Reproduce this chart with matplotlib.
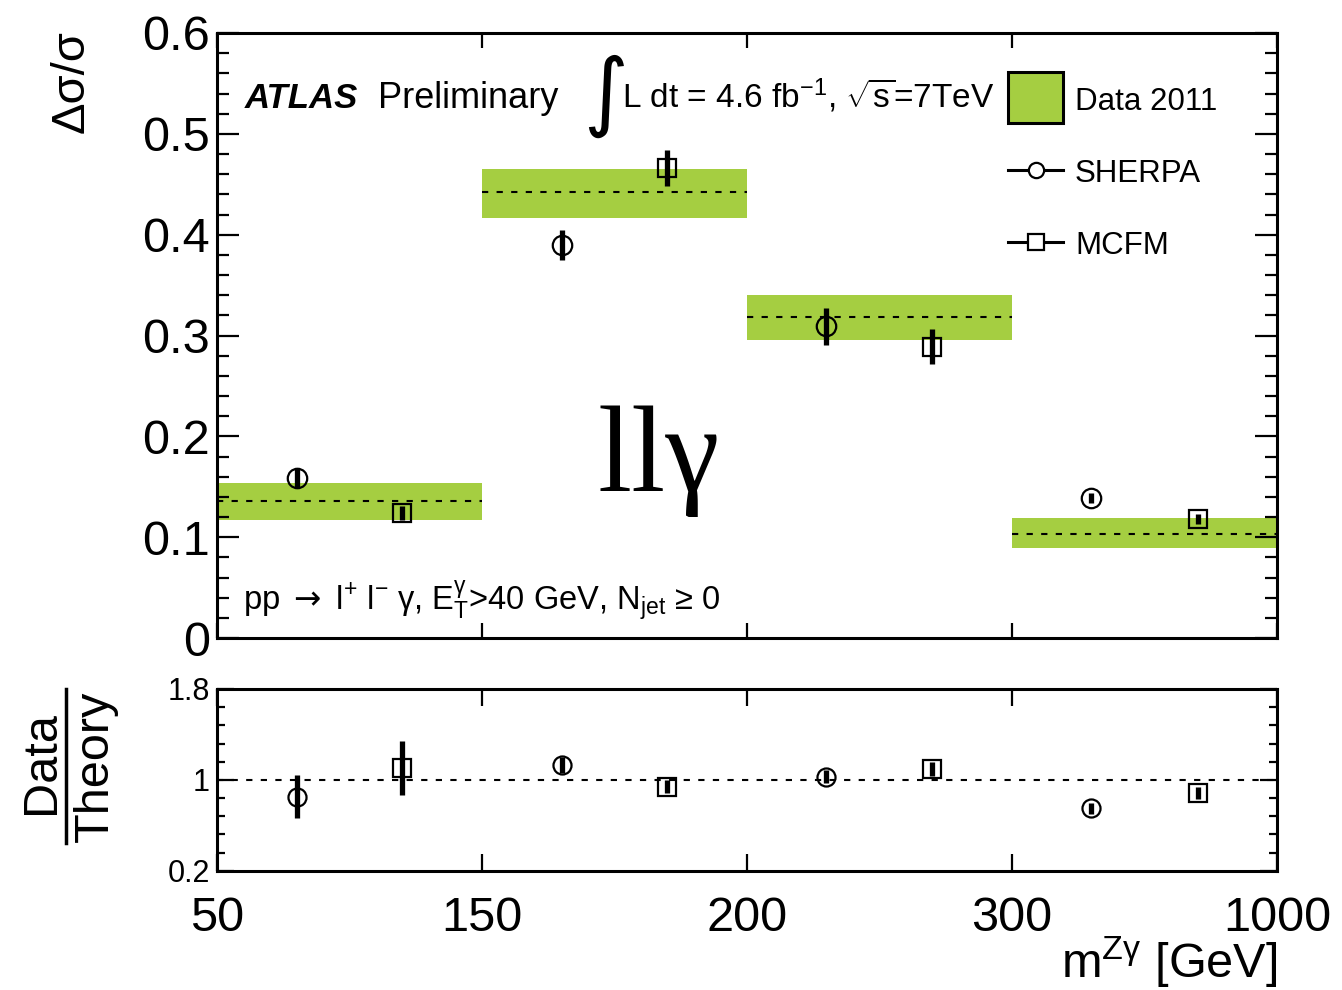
import numpy as np
import matplotlib
matplotlib.use("Agg")
import matplotlib.pyplot as plt
from matplotlib.ticker import FixedLocator, MultipleLocator
from matplotlib.lines import Line2D
from matplotlib.patches import Rectangle

plt.rcParams['font.family'] = ['Liberation Sans', 'DejaVu Sans']
plt.rcParams['mathtext.fontset'] = 'custom'
plt.rcParams['mathtext.rm'] = 'Liberation Sans'
plt.rcParams['mathtext.it'] = 'Liberation Sans'
plt.rcParams['mathtext.bf'] = 'Liberation Sans:bold'
plt.rcParams['mathtext.sf'] = 'DejaVu Sans'

# ---------------- data ----------------
bin_edge_labels = ['50', '150', '200', '300', '1000']
data_central = [0.136, 0.442, 0.318, 0.103]
data_low = [0.117, 0.417, 0.2955, 0.089]
data_high = [0.154, 0.465, 0.340, 0.1187]
sherpa = [0.159, 0.390, 0.309, 0.1386]
sherpa_err = [0.010, 0.015, 0.018, 0.005]
mcfm = [0.124, 0.466, 0.289, 0.1177]
mcfm_err = [0.007, 0.018, 0.017, 0.005]
ratio_sherpa = [0.852, 1.132, 1.029, 0.750]
ratio_sherpa_err = [0.19, 0.07, 0.06, 0.05]
ratio_mcfm = [1.103, 0.941, 1.094, 0.883]
ratio_mcfm_err = [0.24, 0.06, 0.06, 0.05]
top_yticks = [0.0, 0.1, 0.2, 0.3, 0.4, 0.5, 0.6]
top_yticklabels = ['0', '0.1', '0.2', '0.3', '0.4', '0.5', '0.6']
bot_yticks = [0.2, 1.0, 1.8]
bot_yticklabels = ['0.2', '1', '1.8']

GREEN = '#a5ce41'
W, H = 1342, 990
fig = plt.figure(figsize=(W / 100, H / 100), dpi=100)


def fx(px):
    return px / W


def fy(py):
    return 1 - py / H


ax1 = fig.add_axes([fx(217), fy(638), fx(1277) - fx(217), fy(33) - fy(638)])
ax2 = fig.add_axes([fx(217), fy(870.7), fx(1277) - fx(217), fy(689) - fy(870.7)])

nb = len(data_central)
edges = np.arange(nb + 1)
centers = np.arange(nb)
xs = centers + 0.3
xm = centers + 0.7

# top panel
low = np.array(data_low)
high = np.array(data_high)
ax1.bar(centers, high - low, bottom=low, width=1.0, align='edge',
        color=GREEN, edgecolor='none', zorder=1)
ax1.hlines(data_central, centers, centers + 1, colors='black', lw=1.5,
           linestyles=(0, (3, 4)), zorder=2)
ax1.errorbar(xs, sherpa, yerr=sherpa_err, fmt='o', ms=14, mfc='none',
             mec='black', mew=1.6, ecolor='black', elinewidth=3.8, capsize=0, zorder=3)
ax1.errorbar(xm, mcfm, yerr=mcfm_err, fmt='s', ms=13, mfc='none',
             mec='black', mew=1.6, ecolor='black', elinewidth=3.8, capsize=0, zorder=3)

ax1.set_xlim(0, nb)
ax1.set_ylim(0, 0.6)
ax1.set_yticks(top_yticks)
ax1.set_yticklabels(top_yticklabels)
ax1.yaxis.set_minor_locator(MultipleLocator(0.02))
ax1.set_xticks(edges)
ax1.set_xticklabels([])
ax1.tick_params(axis='y', which='major', direction='in', left=True, right=True,
                length=16, width=1.6, labelsize=35, pad=5)
ax1.tick_params(axis='y', which='minor', direction='in', left=True, right=True,
                length=8.5, width=1.6)
ax1.tick_params(axis='x', which='major', direction='in', top=True, bottom=True,
                length=11, width=1.6)

# bottom panel
ax2.axhline(1.0, color='black', lw=1.5, linestyle=(0, (3, 4)), zorder=1)
ax2.errorbar(xs, ratio_sherpa, yerr=ratio_sherpa_err, fmt='o', ms=13, mfc='none',
             mec='black', mew=1.6, ecolor='black', elinewidth=3.8, capsize=0, zorder=3)
ax2.errorbar(xm, ratio_mcfm, yerr=ratio_mcfm_err, fmt='s', ms=12.5, mfc='none',
             mec='black', mew=1.6, ecolor='black', elinewidth=3.8, capsize=0, zorder=3)
ax2.set_xlim(0, nb)
ax2.set_ylim(0.2, 1.8)
ax2.set_yticks(bot_yticks)
ax2.set_yticklabels(bot_yticklabels)
ax2.yaxis.set_minor_locator(FixedLocator(np.arange(0.2, 1.81, 0.16)))
ax2.set_xticks(edges)
ax2.set_xticklabels(bin_edge_labels)
ax2.tick_params(axis='y', which='major', direction='in', left=True, right=True,
                length=12, width=1.6, labelsize=22, pad=5)
ax2.tick_params(axis='y', which='minor', direction='in', left=True, right=True,
                length=6, width=1.6)
ax2.tick_params(axis='x', which='major', direction='in', top=True, bottom=True,
                length=12, width=1.6, labelsize=35, pad=18)

for ax in (ax1, ax2):
    for s in ax.spines.values():
        s.set_linewidth(2.2)

# axis titles
fig.text(fx(72), fy(30), 'Δσ/σ', rotation=90, ha='center', va='top', fontsize=34)
fig.text(fx(42), fy(763), 'Data', rotation=90, ha='center', va='center', fontsize=35)
fig.text(fx(95), fy(766), 'Theory', rotation=90, ha='center', va='center', fontsize=35)
fig.add_artist(Line2D([fx(66), fx(66)], [fy(689), fy(843)], color='black', lw=2.5,
                      transform=fig.transFigure))
fig.text(fx(1277), fy(978), r'm$^{\mathregular{Z}γ}$ [GeV]', ha='right', va='baseline',
         fontsize=35)

# annotations
fig.text(fx(245), fy(108), 'ATLAS', fontsize=25, fontweight='bold', fontstyle='italic',
         va='baseline')
fig.text(fx(378), fy(108), 'Preliminary', fontsize=26, va='baseline')
fig.text(fx(583), fy(120), '∫', fontsize=62, va='baseline', family='DejaVu Sans')
fig.text(fx(622), fy(108), r'L dt = 4.6 fb$^{-1}$, $\sqrt{\mathrm{s}}$=7TeV', fontsize=24,
         va='baseline')
fig.text(fx(243), fy(609),
         r'pp $\mathsf{\rightarrow}$ l$^{+}$ l$^{-}$ γ, E$_{\mathrm{T}}^{γ}$>40 GeV, N$_{\mathrm{jet}}$ ≥ 0',
         fontsize=23.5, va='baseline')
fig.text(fx(597), fy(491), 'llγ', fontsize=88, family='Liberation Serif', va='baseline')

# legend (manual)
ax1.add_patch(Rectangle((fx(1008), fy(123)), fx(1063) - fx(1008), fy(72) - fy(123),
                        transform=fig.transFigure, facecolor=GREEN, edgecolor='black',
                        lw=2.2, clip_on=False, zorder=5))
fig.text(fx(1075), fy(110), 'Data 2011', fontsize=22.5, va='baseline')
for yy, mk, lab in ((170, 'o', 'SHERPA'), (242, 's', 'MCFM')):
    fig.add_artist(Line2D([fx(1008), fx(1063)], [fy(yy), fy(yy)], color='black', lw=2.2,
                          transform=fig.transFigure))
    fig.add_artist(Line2D([fx(1035.5)], [fy(yy)], marker=mk, ms=11, mfc='white',
                          mec='black', mew=1.6, transform=fig.transFigure))
    fig.text(fx(1075), fy(yy + 12), lab, fontsize=22.5, va='baseline')

fig.savefig('out.png', dpi=100)
